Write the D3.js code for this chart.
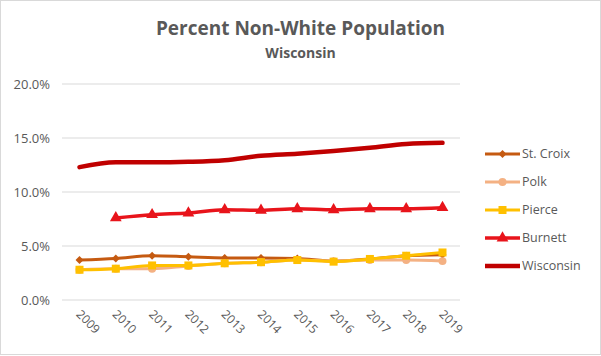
<!DOCTYPE html>
<html><head><meta charset="utf-8">
<script src="https://cdn.jsdelivr.net/npm/d3@7"></script>
<style>body{margin:0;background:#fff;} svg{display:block;font-family:"Open Sans",sans-serif;}</style>
</head><body><svg id="c" width="601" height="356"></svg>
<script>
const years = ["2009","2010","2011","2012","2013","2014","2015","2016","2017","2018","2019"];
const yTicks = [0, 0.05, 0.10, 0.15, 0.20];
const seriesNames = ["St. Croix","Polk","Pierce","Burnett","Wisconsin"];
const stCroix  = [3.7, 3.85, 4.1, 4.0, 3.9, 3.9, 3.85, 3.6, 3.8, 4.1, 4.2];
const polk     = [2.8, 2.9, 2.9, 3.15, 3.4, 3.5, 3.7, 3.6, 3.7, 3.7, 3.6];
const pierce   = [2.8, 2.9, 3.2, 3.2, 3.4, 3.5, 3.7, 3.55, 3.8, 4.1, 4.4];
const burnett  = [null, 7.6, 7.9, 8.05, 8.35, 8.3, 8.45, 8.35, 8.45, 8.45, 8.55];
const wisconsin= [12.3, 12.75, 12.75, 12.8, 12.95, 13.35, 13.55, 13.8, 14.1, 14.45, 14.55];
const colors = ["#C55A11","#F4B183","#FFC000","#E8141B","#C00000"];
const widths = [3, 3, 3, 3.5, 4.5];
const markers = ["diamond","circle","square","triangle","none"];
const allData = [stCroix, polk, pierce, burnett, wisconsin];

const svg = d3.select("#c");
svg.append("rect").attr("x",0.5).attr("y",0.5).attr("width",600).attr("height",354)
  .attr("fill","#fff").attr("stroke","#d9d9d9");

const x = d3.scalePoint().domain(years).range([79.5, 442.5]);
const y = d3.scaleLinear().domain([0, 0.20]).range([300, 84]);

// gridlines
svg.append("g").selectAll("line").data(yTicks).join("line")
  .attr("x1",62).attr("x2",460).attr("y1",d=>y(d)).attr("y2",d=>y(d))
  .attr("stroke","#d9d9d9").attr("stroke-width",1);

// y axis labels
const yAxis = d3.axisLeft(y).tickValues(yTicks).tickFormat(d3.format(".1%")).tickSize(0).tickPadding(0);
const ga = svg.append("g").attr("transform","translate(50,0)").call(yAxis);
ga.select(".domain").remove();
ga.selectAll("text").attr("fill","#595959").attr("font-size","13px").attr("font-family","Open Sans, sans-serif");

// x labels
const xAxis = d3.axisBottom(x).tickSize(0).tickPadding(0);
const gx = svg.append("g").call(xAxis);
gx.select(".domain").remove();
gx.selectAll(".tick").attr("transform", d => `translate(${x(d)-1},${312}) rotate(45)`);
gx.selectAll("text").attr("fill","#595959").attr("font-size","12px")
  .attr("font-family","Open Sans, sans-serif").attr("text-anchor","start").attr("dy","0.35em").attr("y",0).attr("x",0);

const sym = {
  diamond: d3.symbol().type(d3.symbolDiamond2).size(40),
  circle: d3.symbol().type(d3.symbolCircle).size(50),
  square: d3.symbol().type(d3.symbolSquare).size(64),
  triangle: d3.symbol().type(d3.symbolTriangle).size(60)
};

const line = d3.line().defined(d=>d.v!=null).x(d=>x(d.year)).y(d=>y(d.v/100)).curve(d3.curveMonotoneX);

allData.forEach((arr,i)=>{
  const pts = arr.map((v,j)=>({year:years[j], v}));
  const g = svg.append("g");
  g.append("path").datum(pts).attr("d",line).attr("fill","none")
    .attr("stroke",colors[i]).attr("stroke-width",widths[i]).attr("stroke-linecap","round").attr("stroke-linejoin","round");
  if (markers[i] !== "none") {
    g.selectAll("path.m").data(pts.filter(p=>p.v!=null)).join("path").attr("class","m")
      .attr("d", sym[markers[i]])
      .attr("transform", d=>`translate(${x(d.year)},${y(d.v/100)})`)
      .attr("fill",colors[i]);
  }
});

// legend
const lg = svg.append("g");
seriesNames.forEach((n,i)=>{
  const ly = 154 + i*28;
  lg.append("line").attr("x1",485).attr("x2",520).attr("y1",ly).attr("y2",ly)
    .attr("stroke",colors[i]).attr("stroke-width",widths[i]);
  if (markers[i] !== "none") {
    lg.append("path").attr("d", sym[markers[i]]).attr("transform",`translate(502.5,${ly})`).attr("fill",colors[i]);
  }
  lg.append("text").attr("x",522).attr("y",ly).attr("dy","0.35em").text(n)
    .attr("fill","#595959").attr("font-size","12.5px");
});

svg.append("text").attr("x",300.5).attr("y",35).attr("text-anchor","middle")
  .attr("font-size","19px").attr("font-weight","bold").attr("fill","#595959").text("Percent Non-White Population");
svg.append("text").attr("x",300.5).attr("y",58).attr("text-anchor","middle")
  .attr("font-size","14px").attr("font-weight","bold").attr("fill","#595959").text("Wisconsin");
</script></body></html>
